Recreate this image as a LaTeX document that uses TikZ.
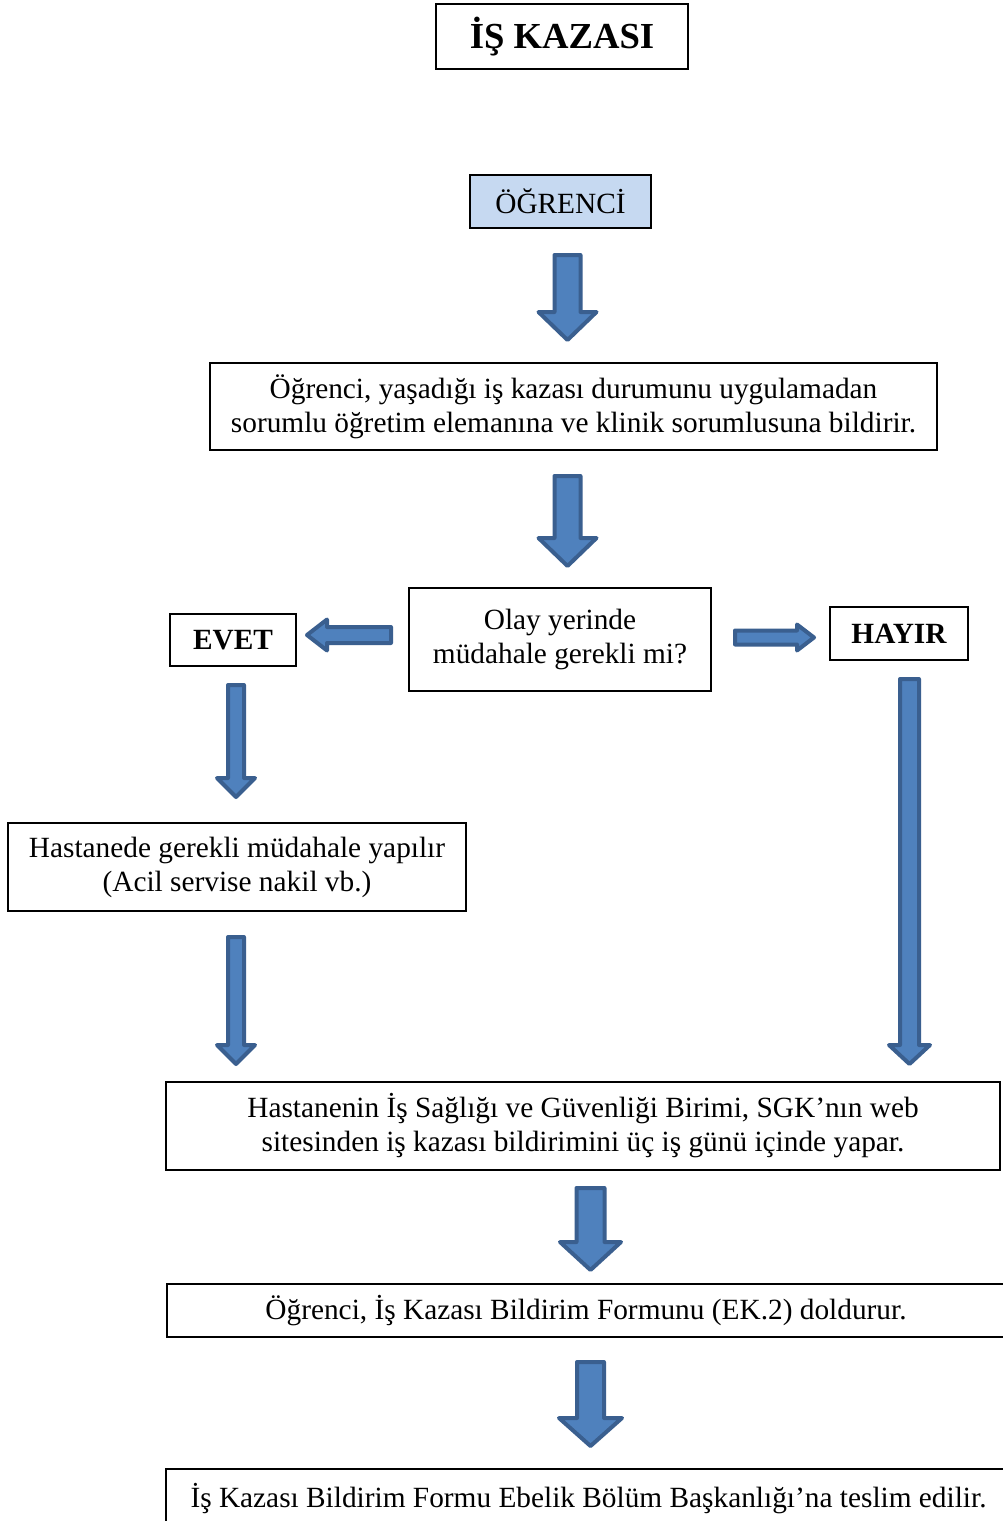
\documentclass[tikz,border=0pt]{standalone}
\usepackage{fontspec}
\setmainfont{Liberation Serif}
\definecolor{arrfill}{HTML}{4F81BD}
\definecolor{arrline}{HTML}{3A5F8F}
\definecolor{lblue}{HTML}{C6D9F1}
\tikzset{
  bx/.style 2 args={draw=black, line width=1.5pt, inner sep=0pt, align=center,
    minimum width=#1*0.75pt, minimum height=#2*0.75pt,
    font=\fontsize{22}{25.5}\selectfont},
  blk/.style={fill=arrfill, draw=arrline, line width=3pt, line join=round}
}
\newcommand\blkdown[6]{%
  \path[blk] ({#1-#4},#2) -- ({#1+#4},#2) -- ({#1+#4},#6) -- ({#1+#5},#6)
    -- (#1,#3) -- ({#1-#5},#6) -- ({#1-#4},#6) -- cycle;}
\newcommand\blkhor[6]{%
  \path[blk] (#2,{#1-#4}) -- (#6,{#1-#4}) -- (#6,{#1-#5}) -- (#3,#1)
    -- (#6,{#1+#5}) -- (#6,{#1+#4}) -- (#2,{#1+#4}) -- cycle;}
\begin{document}
\begin{tikzpicture}[x=0.75pt,y=-0.75pt]
\path[use as bounding box] (0,0) rectangle (1003,1521);
\clip (0,0) rectangle (1003,1521);
\fill[white] (0,0) rectangle (1003,1521);

\node[bx={252}{65}, font=\fontsize{27.5}{30}\selectfont\bfseries] (title) at (562,36.5) {İŞ KAZASI};
\node[bx={181}{53}, fill=lblue] (ogr) at (560.5,201.5) {ÖĞRENCİ};
\node[bx={727}{87}] (b2) at (573.5,406.5) {Öğrenci, yaşadığı iş kazası durumunu uygulamadan\\sorumlu öğretim elemanına ve klinik sorumlusuna bildirir.};
\node[bx={302}{103}] (dec) at (560,639.5) {Olay yerinde\\müdahale gerekli mi?};
\node[bx={126}{52}, font=\fontsize{22}{25.5}\selectfont\bfseries] (evet) at (233,640) {EVET};
\node[bx={138}{53}, font=\fontsize{22}{25.5}\selectfont\bfseries] (hayir) at (899,633.5) {HAYIR};
\node[bx={458}{88}] (hast) at (237,867) {Hastanede gerekli müdahale yapılır\\(Acil servise nakil vb.)};
\node[bx={834}{88}] (sgk) at (583,1126) {Hastanenin İş Sağlığı ve Güvenliği Birimi, SGK’nın web\\sitesinden iş kazası bildirimini üç iş günü içinde yapar.};
\node[bx={838}{53}] (form) at (586,1310.5) {Öğrenci, İş Kazası Bildirim Formunu (EK.2) doldurur.};
\node[bx={845}{60}] (last) at (588.5,1499) {İş Kazası Bildirim Formu Ebelik Bölüm Başkanlığı’na teslim edilir.};

% block arrows
\blkdown{567.5}{255}{340}{13}{29}{312}
\blkdown{567.5}{476}{566}{13}{29}{538}
\blkhor{635}{391}{307}{8}{15.5}{327}
\blkhor{637.5}{735}{814}{7}{13}{797}
\blkdown{236}{685}{797}{8}{19}{778}
\blkdown{236}{937}{1064}{8}{19}{1045}
\blkdown{909.5}{679}{1064}{9.5}{20.5}{1045}
\blkdown{590.5}{1188}{1270}{14}{30.5}{1242}
\blkdown{590.5}{1362}{1446}{13.5}{31.5}{1418}
\end{tikzpicture}
\end{document}
